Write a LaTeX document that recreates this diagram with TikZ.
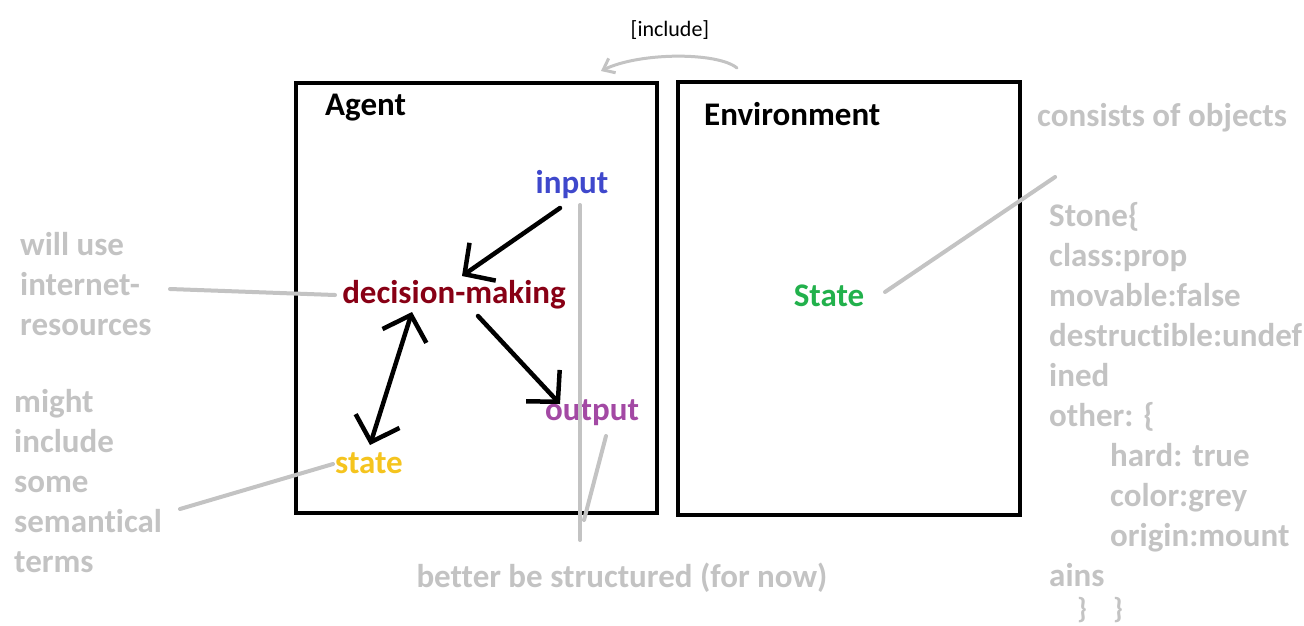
\documentclass[tikz,border=0pt]{standalone}
\usepackage{fontspec}
\setmainfont{Carlito}[Ligatures=NoCommon]
\usetikzlibrary{arrows.meta,calc}
\definecolor{lg}{RGB}{195,195,195}
\definecolor{cin}{RGB}{63,72,204}
\definecolor{cdm}{RGB}{136,0,21}
\definecolor{cout}{RGB}{163,73,164}
\definecolor{cst}{RGB}{245,196,30}
\definecolor{cgr}{RGB}{34,177,76}
\tikzset{
  big/.style={font=\fontsize{33}{40}\selectfont\bfseries, inner sep=0pt},
  note/.style={big, text=lg, align=left},
  frame/.style={draw=black, line width=4pt, inner sep=0pt},
  blk/.style={draw=black, line width=4.5pt, line cap=round, -{Straight Barb[length=22pt,width=46pt,line width=4.5pt]}},
  blkboth/.style={draw=black, line width=4.5pt, line cap=round, {Straight Barb[length=22pt,width=46pt,line width=4.5pt]}-{Straight Barb[length=22pt,width=46pt,line width=4.5pt]}},
  gline/.style={draw=lg, line width=4pt, line cap=round},
}
\begin{document}
\begin{tikzpicture}[x=1pt,y=-1pt]
\useasboundingbox[fill=white] (0,0) rectangle (1304,625);
% frames
\node[frame, minimum width=361pt, minimum height=430pt] (agentbox) at (476.5,298) {};
\node[frame, minimum width=342pt, minimum height=433pt] (envbox) at (849,298.5) {};
% titles
\node[big, anchor=west] (agent) at (325,108) {Agent};
\node[big, anchor=west] (env) at (704,114) {Environment};
% agent parts
\node[big, text=cin] (input) at (572,185) {input};
\node[big, text=cdm] (dm) at (454,295) {decision-making};
\node[big, text=cout] (output) at (592,413) {output};
\node[big, text=cst] (state) at (369,463) {state};
\node[big, text=cgr] (envstate) at (829,296) {State};
% notes
\node[note, anchor=west] (consists) at (1037,118) {consists of objects};
\node[note, anchor=north west] (stone) at (1049,202) {Stone\{\\class:prop\\movable:false\\destructible:undef\\ined\\other: \{\\\hspace*{61pt}hard: true\\\hspace*{61pt}color:grey\\\hspace*{61pt}origin:mount\\ains};
\node[note, font=\fontsize{29}{34}\selectfont\bfseries] (brace1) at (1082,610) {\}};
\node[note, font=\fontsize{29}{34}\selectfont\bfseries] (brace2) at (1118,610) {\}};
\node[note, anchor=north west] (willuse) at (20,232) {will use\\internet-\\resources};
\node[note, anchor=north west] (might) at (14,389) {might\\include\\some\\semantical\\terms};
\node[note] (better) at (622,578) {better be structured (for now)};
\node[font=\fontsize{22}{26}\selectfont, inner sep=0pt] (incl) at (670,30) {[include]};
% gray connectors
\coordinate (wu) at (170,289);
\coordinate (sem) at (180,509);
\coordinate (incA) at (737,68);
\coordinate (incB) at (601,71);
\draw[gline] (wu) -- ($(dm)+(-119,0)$);
\draw[gline] (sem) -- ($(state)+(-36,1)$);
\draw[gline] ($(input)+(8,20)$) -- ($(better)+(-42,-38)$);
\draw[gline] ($(output)+(14,23)$) -- ($(better)+(-38,-58)$);
\draw[gline] ($(envstate)+(56,-4)$) -- ($(consists)+(-107,59)$);
\draw[draw=lg, line width=3pt, line cap=round, -{Straight Barb[length=10pt,width=16pt,line width=3pt]}] (incA) .. controls (718,52) and (640,52) .. (incB);
% black arrows
\draw[blk] ($(input)+(-12,23)$) -- ($(dm)+(8,-19)$);
\draw[blk] ($(dm)+(24,21)$) -- ($(output)+(-32,-9)$);
\draw[blkboth] ($(dm)+(-42,17)$) -- ($(state)+(1,-18)$);
\end{tikzpicture}
\end{document}
